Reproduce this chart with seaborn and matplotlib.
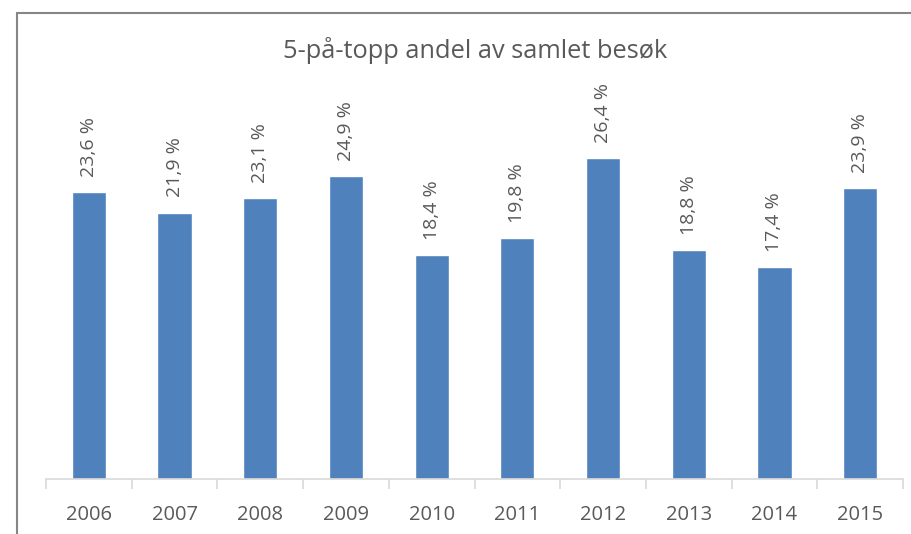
import matplotlib
matplotlib.use("Agg")
import matplotlib.pyplot as plt
import seaborn as sns
import pandas as pd
from matplotlib.patches import Rectangle

years = ["2006", "2007", "2008", "2009", "2010", "2011", "2012", "2013", "2014", "2015"]
shares = [23.6, 21.9, 23.1, 24.9, 18.4, 19.8, 26.4, 18.8, 17.4, 23.9]
title = "5-på-topp andel av samlet besøk"

BAR = "#4F81BD"
TEXT = "#595959"
AXIS = "#D9D9D9"

sns.set_theme(style="white")
plt.rcParams["font.family"] = ["Open Sans", "DejaVu Sans"]

df = pd.DataFrame({"year": years, "share": shares})

fig = plt.figure(figsize=(9.11, 5.34), dpi=100)
ax = fig.add_axes([46 / 911, 55 / 534, 857 / 911, 365 / 534])

sns.barplot(data=df, x="year", y="share", color=BAR, width=0.4,
            saturation=1, ax=ax)

for p, v in zip(ax.patches, shares):
    ax.annotate(f"{v:.1f} %".replace(".", ","),
                xy=(p.get_x() + p.get_width() / 2, p.get_height()),
                xytext=(0, 11), textcoords="offset points",
                rotation=90, ha="center", va="bottom",
                fontsize=14, color=TEXT)

ax.set_ylim(0, 30)
ax.set_xlim(-0.5, len(years) - 0.5)
ax.set_xlabel("")
ax.set_ylabel("")
ax.set_yticks([])
for s in ["left", "right", "top"]:
    ax.spines[s].set_visible(False)
ax.spines["bottom"].set_color(AXIS)
ax.spines["bottom"].set_linewidth(1.2)

ax.tick_params(axis="x", which="major", length=0, labelsize=14.5,
               labelcolor=TEXT, pad=19)
ax.set_xticks([i + 0.5 for i in range(-1, len(years))], minor=True)
ax.tick_params(axis="x", which="minor", length=7, width=1.2, color=AXIS,
               bottom=True)

fig.text(475 / 911, 1 - 50 / 534, title, ha="center", va="center",
         fontsize=18.3, color=TEXT)

# chart frame (left and top edges visible)
fig.patches.append(Rectangle((17 / 911, -0.1), 1.2, 1.1 - 13 / 534,
                             transform=fig.transFigure, fill=False,
                             edgecolor="#868686", linewidth=1.5))

fig.savefig("out.png", dpi=100)
